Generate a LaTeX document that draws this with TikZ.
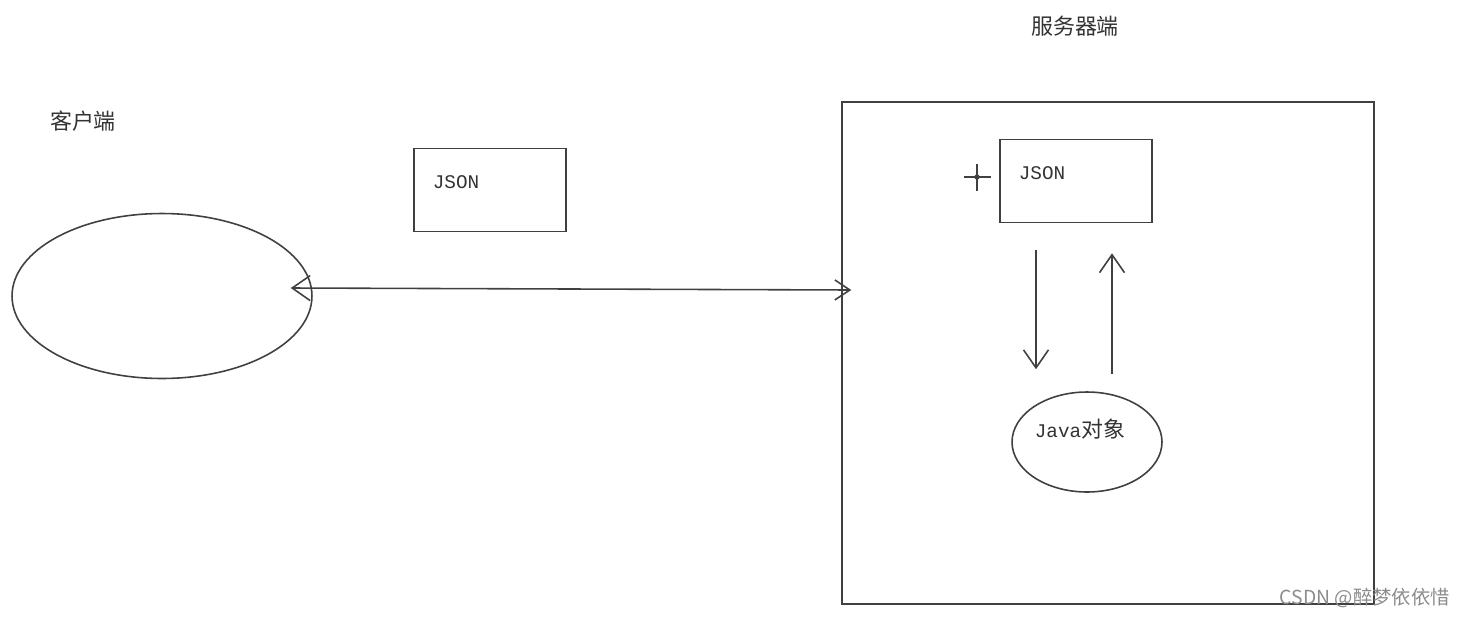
\documentclass[tikz,border=0pt]{standalone}
\usepackage{fontspec}
\newfontfamily\cjk{Noto Sans CJK SC}
\newfontfamily\mono{Liberation Mono}
\usepackage{tikz}
\usetikzlibrary{arrows.meta, positioning, calc, shapes.geometric}

\begin{document}
\begin{tikzpicture}[x=0.02cm, y=-0.02cm,
    line/.style={draw=black!75, line width=0.9pt},
    arr/.style={line, -{Straight Barb[length=0.36cm, width=0.5cm]}},
    dbl/.style={line, {Straight Barb[length=0.36cm, width=0.5cm]}-{Straight Barb[length=0.3cm, width=0.4cm]}},
    jsonbox/.style={line, rectangle, minimum width=3.04cm, minimum height=1.66cm, inner sep=0pt},
    oval/.style={line, ellipse, inner sep=0pt},
    title/.style={text=black!80, font=\cjk\fontsize{12.5}{14}\selectfont},
    mtext/.style={text=black!80, font=\mono\fontsize{11}{13}\selectfont}]
  \useasboundingbox (0,0) rectangle (1471,616);
  % client side
  \node[title] (clientlabel) at (83,121) {客户端};
  \node[oval, minimum width=6cm, minimum height=3.3cm] (client) at (162,296) {};
  \node[jsonbox] (jbox1) at (490,190) {};
  \node[mtext] (jtext1) at (456,182) {JSON};
  % server side
  \node[title] (serverlabel) at (1075,26) {服务器端};
  \node[line, rectangle, minimum width=10.64cm, minimum height=10.04cm, inner sep=0pt] (server) at (1108,353) {};
  \node[jsonbox] (jbox2) at (1076,181) {};
  \node[mtext] (jtext2) at (1042,173) {JSON};
  \node[oval, minimum width=3cm, minimum height=2cm] (obj) at (1087,442) {};
  \node[text=black!80, inner sep=0pt] (objtext) at (1080,429) {\mono\fontsize{11}{13}\selectfont Java\cjk\fontsize{12.5}{14}\selectfont 对象};
  % cursor mark
  \draw[line, line width=0.7pt] (964,177) -- (991,177) (977,164) -- (977,191);
  \draw[line, line width=0.7pt] (977,177) circle (2);
  % connectors
  \draw[dbl] ($(client.east)+(-22,-8)$) -- ($(server.west)+(10,-63)$);
  \draw[arr] ($(jbox2.south)+(-40,27)$) -- ($(obj.north)+(-51,-22)$);
  \draw[arr] ($(obj.north)+(25,-17)$) -- ($(jbox2.south)+(36,30)$);
  \node[text=black!45, font=\cjk\fontsize{11}{13}\selectfont, anchor=east] (mark) at (1456,598) {CSDN @醉梦依依惜};
\end{tikzpicture}
\end{document}
